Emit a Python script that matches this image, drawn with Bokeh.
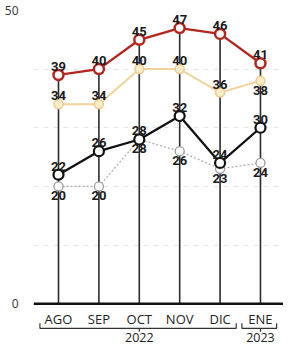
from bokeh.plotting import figure
from bokeh.models import FixedTicker, Grid, Span
from bokeh.core.properties import value
from bokeh.embed import file_html
from bokeh.resources import INLINE

# ---- data ----
months = ["AGO", "SEP", "OCT", "NOV", "DIC", "ENE"]
month_years = ["2022", "2022", "2022", "2022", "2022", "2023"]
red = [39, 40, 45, 47, 46, 41]
tan = [34, 34, 40, 40, 36, 38]
black = [22, 26, 28, 32, 24, 30]
grey = [20, 20, 28, 26, 23, 24]
y_ticks = [0, 50]
grid_ticks = [10, 20, 30, 40]

xs = list(range(len(months)))

p = figure(width=283, height=346, x_range=(-0.619, 5.57), y_range=(-7.3, 51.7),
           output_backend="svg", toolbar_location=None, x_axis_location=None,
           min_border_left=33, min_border_right=0, min_border_top=0, min_border_bottom=0)
p.outline_line_color = None
p.xgrid.visible = False
p.ygrid.visible = False

ax = p.yaxis[0]
ax.ticker = FixedTicker(ticks=y_ticks)
ax.axis_line_color = None
ax.major_tick_line_color = None
ax.minor_tick_line_color = None
ax.major_label_standoff = 9
ax.major_label_text_font = "Open Sans"
ax.major_label_text_font_size = "12px"
ax.major_label_text_color = "#333333"

g = Grid(dimension=1, ticker=FixedTicker(ticks=grid_ticks), grid_line_color="#e4e4e4",
         grid_line_dash="5 5", grid_line_width=1)
p.add_layout(g)

# stems
p.segment(x0=xs, y0=[0] * len(xs), x1=xs, y1=red, line_color="#2b2b2b", line_width=1.6)
p.add_layout(Span(location=0, dimension="width", line_color="#111111", line_width=2.5))

# series
p.line(xs, grey, line_color="#aaaaaa", line_width=1.2, line_dash="2 2")
p.scatter(xs, grey, size=9, fill_color="white", line_color="#9a9a9a", line_width=1.3)

p.line(xs, tan, line_color="#efd29c", line_width=2)
p.scatter(xs, tan, size=9, fill_color="#fcecc8", line_color="#ebcc90", line_width=1.5)

p.line(xs, black, line_color="#111111", line_width=2.3)
p.scatter(xs, black, size=10, fill_color="white", line_color="#111111", line_width=2.2)

p.line(xs, red, line_color="#b3261e", line_width=2.3)
p.scatter(xs, red, size=10, fill_color="white", line_color="#b3261e", line_width=2.5)

lab = dict(text_font=value("Roboto"), text_font_style="bold", text_font_size="13px",
           text_color="#1a1a1a", text_align="center")

def labels(vals, above):
    up = [i for i in xs if above[i]]
    dn = [i for i in xs if not above[i]]
    if up:
        p.text([xs[i] for i in up], [vals[i] for i in up], text=[str(vals[i]) for i in up],
               text_baseline="bottom", y_offset=-4, **lab)
    if dn:
        p.text([xs[i] for i in dn], [vals[i] for i in dn], text=[str(vals[i]) for i in dn],
               text_baseline="top", y_offset=5, **lab)

labels(red, [True] * 6)
labels(tan, [True, True, True, True, True, False])
labels(black, [True] * 6)
labels(grey, [False] * 6)

# month labels
mlab = dict(text_font=value("Open Sans"), text_color="#222222", text_align="center")
p.text(xs, [-2.55] * len(xs), text=months, text_baseline="middle", text_font_size="13px", **mlab)

# year brackets
years = []
for y in month_years:
    if y not in years:
        years.append(y)
bx, by, cx = [], [], []
for y in years:
    idx = [i for i, m in enumerate(month_years) if m == y]
    a, b = min(idx) - 0.46, max(idx) + 0.4
    c = (min(idx) + max(idx)) / 2
    bx.append([a, a, b, b]); by.append([-3.35, -4.2, -4.2, -3.35])
    bx.append([c, c]); by.append([-4.2, -4.8])
    cx.append(c)
p.multi_line(bx, by, line_color="#333333", line_width=1.2)
p.text(cx, [-6.45] * len(cx), text=years, text_baseline="bottom", text_font_size="12.5px", **mlab)

open("out.html", "w").write(file_html(p, INLINE))
